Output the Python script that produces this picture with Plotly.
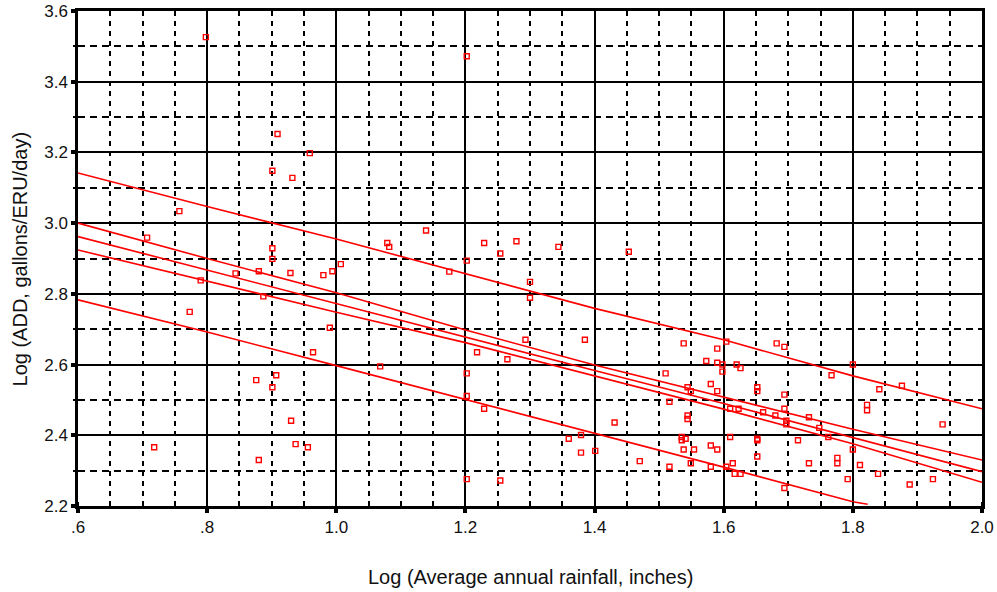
import plotly.graph_objects as go

# Scatter data: log(average annual rainfall) vs log(ADD)
rain_x = [0.798, 0.909, 0.959, 0.901, 0.932, 0.757, 0.707, 0.901, 0.901,
          1.202, 1.139, 1.079, 1.082, 1.229, 1.279, 1.254, 1.344, 1.453, 1.202,
          0.790, 0.844, 0.880, 0.929, 0.980, 0.994, 1.007, 0.773, 0.887, 0.990,
          0.964, 0.876, 0.907, 0.901, 0.930, 0.937, 0.956, 0.718, 0.880,
          1.175, 1.300, 1.300, 1.293, 1.385, 1.218, 1.265, 1.068, 1.202, 1.202,
          1.229, 1.510, 1.516, 1.431, 1.360, 1.379, 1.379, 1.401, 1.470, 1.516,
          1.202, 1.254,
          1.538, 1.590, 1.604, 1.573, 1.590, 1.598, 1.598, 1.620, 1.626, 1.682,
          1.694, 1.800, 1.767, 1.876, 1.841, 1.580, 1.544, 1.549, 1.590, 1.652,
          1.652, 1.694, 1.610, 1.623, 1.661, 1.680, 1.694, 1.732, 1.697, 1.697,
          1.748, 1.762, 1.822, 1.822, 1.939, 1.544, 1.544, 1.535, 1.535, 1.541,
          1.610, 1.652, 1.652, 1.715, 1.538, 1.554, 1.580, 1.590, 1.800, 1.652,
          1.549, 1.614, 1.732, 1.776, 1.776, 1.811, 1.580, 1.604, 1.617, 1.626,
          1.839, 1.924, 1.792, 1.888, 1.694]
add_y = [3.526, 3.252, 3.198, 3.148, 3.128, 3.034, 2.959, 2.929, 2.899,
         3.472, 2.979, 2.944, 2.933, 2.944, 2.949, 2.914, 2.933, 2.919, 2.894,
         2.838, 2.858, 2.864, 2.859, 2.853, 2.864, 2.884, 2.749, 2.793, 2.704,
         2.635, 2.556, 2.570, 2.536, 2.441, 2.375, 2.366, 2.366, 2.330,
         2.863, 2.834, 2.789, 2.670, 2.670, 2.635, 2.615, 2.595, 2.575, 2.511,
         2.475, 2.575, 2.495, 2.436, 2.390, 2.401, 2.351, 2.356, 2.327, 2.311,
         2.276, 2.272,
         2.660, 2.645, 2.665, 2.610, 2.605, 2.600, 2.580, 2.600, 2.590, 2.660,
         2.650, 2.600, 2.570, 2.540, 2.530, 2.545, 2.536, 2.525, 2.525, 2.536,
         2.525, 2.515, 2.475, 2.475, 2.465, 2.456, 2.475, 2.451, 2.441, 2.431,
         2.421, 2.395, 2.486, 2.471, 2.431, 2.456, 2.446, 2.395, 2.386, 2.390,
         2.395, 2.390, 2.386, 2.386, 2.360, 2.360, 2.371, 2.360, 2.360, 2.340,
         2.321, 2.321, 2.321, 2.336, 2.321, 2.316, 2.311, 2.311, 2.291, 2.291,
         2.291, 2.276, 2.276, 2.261, 2.251]

# Fit line and bands (read at x steps)
line_x = [0.6, 0.8, 1.0, 1.2, 1.4, 1.6, 1.8, 2.0]
upper_pred = [3.142, 3.047, 2.955, 2.856, 2.759, 2.670, 2.568, 2.475]
upper_conf = [3.000, 2.900, 2.803, 2.698, 2.599, 2.507, 2.417, 2.330]
fit_line = [2.962, 2.867, 2.773, 2.677, 2.583, 2.490, 2.394, 2.297]
lower_conf = [2.924, 2.835, 2.748, 2.662, 2.568, 2.474, 2.376, 2.267]
lower_pred_x = [0.6, 0.8, 1.0, 1.2, 1.4, 1.6, 1.8, 1.823]
lower_pred = [2.783, 2.692, 2.597, 2.502, 2.407, 2.310, 2.212, 2.205]

x_tickvals = [0.6, 0.8, 1.0, 1.2, 1.4, 1.6, 1.8, 2.0]
x_ticktext = [".6", ".8", "1.0", "1.2", "1.4", "1.6", "1.8", "2.0"]
y_tickvals = [2.2, 2.4, 2.6, 2.8, 3.0, 3.2, 3.4, 3.6]
y_ticktext = ["2.2", "2.4", "2.6", "2.8", "3.0", "3.2", "3.4", "3.6"]

RED = "#ff0000"
FONT = "Liberation Sans, Arial, sans-serif"
TXT = "#111111"

fig = go.Figure()
for ys, xs in [(upper_pred, line_x), (upper_conf, line_x), (fit_line, line_x),
               (lower_conf, line_x), (lower_pred, lower_pred_x)]:
    fig.add_trace(go.Scatter(x=xs, y=ys, mode="lines",
                             line=dict(color=RED, width=1.6),
                             showlegend=False, hoverinfo="skip"))

fig.add_trace(go.Scatter(x=rain_x, y=add_y, mode="markers",
                         marker=dict(symbol="square-open", size=5, color=RED,
                                     line=dict(color=RED, width=1.4)),
                         showlegend=False))

grid_common = dict(showgrid=True, gridcolor="black", gridwidth=2,
                   showline=True, linecolor="black", linewidth=2.5, mirror=True,
                   zeroline=False, ticks="outside", ticklen=4, tickwidth=4,
                   tickcolor="black", automargin=False,
                   ticklabeloverflow="allow",
                   tickfont=dict(family=FONT, size=17, color=TXT))

fig.update_xaxes(range=[0.6, 2.0], tickmode="array", tickvals=x_tickvals,
                 ticktext=x_ticktext,
                 minor=dict(dtick=0.05, tick0=0.6, showgrid=True,
                            gridcolor="black", gridwidth=1.5, griddash="5px,5px",
                            ticks="inside", ticklen=4, tickwidth=1.5,
                            tickcolor="black"),
                 **grid_common)
fig.update_yaxes(range=[2.2, 3.6], tickmode="array", tickvals=y_tickvals,
                 ticktext=y_ticktext,
                 minor=dict(dtick=0.1, tick0=2.2, showgrid=True,
                            gridcolor="black", gridwidth=1.5, griddash="7px,5px",
                            ticks="outside", ticklen=2, tickwidth=1.5,
                            tickcolor="black"),
                 **grid_common)

fig.update_layout(
    width=997, height=592,
    margin=dict(l=78, r=15, t=11, b=86),
    plot_bgcolor="white", paper_bgcolor="white",
    font=dict(family=FONT, color=TXT),
    annotations=[
        dict(text="Log (Average annual rainfall, inches)", xref="paper",
             yref="paper", x=0.5, y=-0.1434, xanchor="center",
             yanchor="middle", showarrow=False,
             font=dict(family=FONT, size=20, color=TXT)),
        dict(text="Log (ADD, gallons/ERU/day)", xref="paper", yref="paper",
             x=-0.0642, y=0.5, xanchor="center", yanchor="middle",
             textangle=-90, showarrow=False,
             font=dict(family=FONT, size=20, color=TXT)),
    ],
)

# Remove the default page margin so the figure fills the window exactly.
fig.write_html("out.html",
               config={"displayModeBar": False},
               post_script="document.body.style.margin='0';"
                           "document.body.style.overflow='hidden';")
